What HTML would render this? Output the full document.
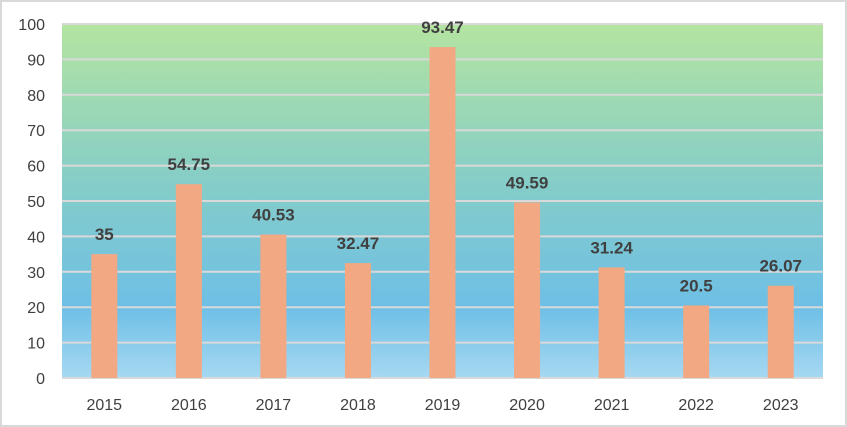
<!DOCTYPE html>
<html><head><meta charset="utf-8"><style>
html,body{margin:0;padding:0;background:#fff;}
svg{display:block;font-family:"Liberation Sans",Arial,sans-serif;}
</style></head><body>
<svg id="chart" width="847" height="427" viewBox="0 0 847 427">
<defs>
<linearGradient id="bg" x1="0" y1="0" x2="0" y2="1">
<stop offset="0" stop-color="#b4e4a0"/>
<stop offset="0.45" stop-color="#85cdc8"/>
<stop offset="0.8" stop-color="#6ebfe6"/>
<stop offset="1" stop-color="#a6d8f2"/>
</linearGradient>
</defs>
<rect x="1" y="1" width="845" height="425" fill="#fff" stroke="#d9d9d9" stroke-width="2"/>
<rect x="62" y="24" width="761" height="354" fill="url(#bg)"/>
<g id="grid"></g><g id="bars"></g><g id="labels"></g><g id="yticks"></g><g id="xticks"></g>
</svg>
<script>
const categories=["2015","2016","2017","2018","2019","2020","2021","2022","2023"];
const values=[35,54.75,40.53,32.47,93.47,49.59,31.24,20.5,26.07];
const valueLabels=["35","54.75","40.53","32.47","93.47","49.59","31.24","20.5","26.07"];
const yTicks=[0,10,20,30,40,50,60,70,80,90,100];
const L=62,R=823,T=24,B=378,yMax=100;
const ns="http://www.w3.org/2000/svg";
const y=v=>B-(v/yMax)*(B-T);
const bw=(R-L)/categories.length;
const x=i=>L+bw*(i+0.5);
function mk(t,a,p,txt){const e=document.createElementNS(ns,t);for(const k in a)e.setAttribute(k,a[k]);if(txt!==undefined)e.textContent=txt;document.getElementById(p).appendChild(e);return e;}
yTicks.forEach(t=>{
 const g=mk('line',{x1:L,x2:R,y1:y(t),y2:y(t),stroke:'#d9d9d9','stroke-width':2},'grid');
 
 
 const l=mk('text',{x:45,y:y(t)+6,'text-anchor':'end','font-size':16,fill:'#404040'},'yticks',String(t));
 
 
});
categories.forEach((c,i)=>{
 const r=mk('rect',{x:x(i)-13,y:y(values[i]),width:26,height:B-y(values[i]),fill:'#f2a882'},'bars');
 
 
 const v=mk('text',{x:x(i),y:y(values[i])-14,'text-anchor':'middle','font-size':17,'font-weight':'bold',fill:'#404040'},'labels',valueLabels[i]);
 
 
 const t=mk('text',{x:x(i),y:410,'text-anchor':'middle','font-size':16,fill:'#404040'},'xticks',c);
 
 
});
</script>
</body></html>
